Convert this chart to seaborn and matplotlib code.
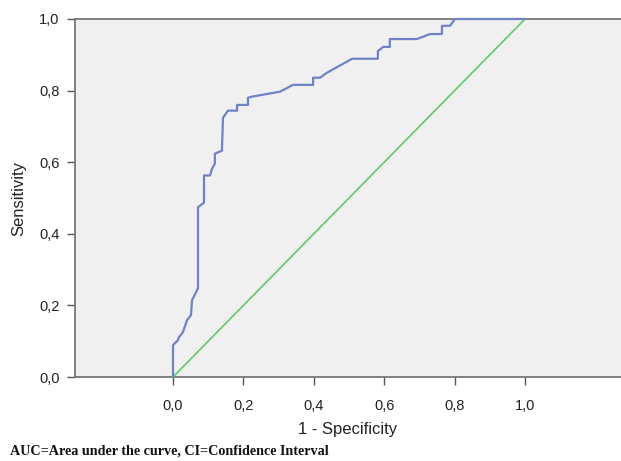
import numpy as np
import pandas as pd
import seaborn as sns
import matplotlib
matplotlib.use("Agg")
import matplotlib.pyplot as plt
from matplotlib.ticker import FuncFormatter

# ROC curve points
fpr = [0.0, 0.0, 0.014, 0.017, 0.028, 0.040, 0.051, 0.054, 0.071, 0.071,
       0.088, 0.088, 0.105, 0.111, 0.119, 0.119, 0.139, 0.142, 0.156, 0.182,
       0.182, 0.213, 0.213, 0.224, 0.304, 0.341, 0.398, 0.398, 0.418, 0.4375,
       0.509, 0.582, 0.582, 0.597, 0.616, 0.616, 0.693, 0.730, 0.764, 0.764,
       0.787, 0.801, 1.0]
tpr = [0.0, 0.089, 0.103, 0.111, 0.125, 0.159, 0.173, 0.214, 0.248, 0.474,
       0.487, 0.563, 0.563, 0.582, 0.596, 0.624, 0.632, 0.724, 0.744, 0.744,
       0.760, 0.760, 0.780, 0.783, 0.797, 0.816, 0.816, 0.836, 0.836, 0.850,
       0.889, 0.889, 0.910, 0.922, 0.922, 0.944, 0.944, 0.958, 0.958, 0.981,
       0.981, 1.0, 1.0]
ref_x = [0.0, 1.0]
ref_y = [0.0, 1.0]
ticks = [0.0, 0.2, 0.4, 0.6, 0.8, 1.0]

roc = pd.DataFrame({"fpr": fpr, "tpr": tpr})
ref = pd.DataFrame({"fpr": ref_x, "tpr": ref_y})

sns.set_style("white")
plt.rcParams["font.family"] = ["Liberation Sans", "DejaVu Sans"]

fig = plt.figure(figsize=(6.21, 4.61), dpi=100)
ax = fig.add_axes([75 / 621, 1 - 377 / 461, 546 / 621, 358 / 461])
ax.set_facecolor("#f0f0f0")

sns.lineplot(data=ref, x="fpr", y="tpr", ax=ax, color="#5fc96b", linewidth=1.2)
sns.lineplot(data=roc, x="fpr", y="tpr", ax=ax, sort=False, estimator=None,
             color="#6f82c8", linewidth=1.6)
for ln in ax.lines:
    ln.set_clip_on(False)
    ln.set_zorder(3)

ax.set_xlim((75 - 173) / 352, (621 - 173) / 352)
ax.set_ylim(0, 1.0)
ax.set_xticks(ticks)
ax.set_yticks(ticks)
fmt = FuncFormatter(lambda v, p: f"{v:.1f}".replace(".", ","))
ax.xaxis.set_major_formatter(fmt)
ax.yaxis.set_major_formatter(fmt)
ax.tick_params(axis="both", direction="out", length=6, width=1,
               color="#555555", labelsize=10.5, labelcolor="#222222", pad=5)
ax.tick_params(axis="x", bottom=True, pad=10)
ax.tick_params(axis="y", left=True, pad=5)

for side in ["left", "bottom", "top"]:
    ax.spines[side].set_color("#777777")
    ax.spines[side].set_linewidth(1.3)
    ax.spines[side].set_zorder(2)
ax.spines["right"].set_visible(False)

ax.set_xlabel("1 - Specificity", fontsize=12, color="#222222", labelpad=6)
ax.set_ylabel("Sensitivity", fontsize=12, color="#222222", labelpad=9)

fig.text(10 / 621, 1 - 451 / 461, "AUC=Area under the curve, CI=Confidence Interval",
         family=["Liberation Serif", "DejaVu Serif"], fontweight="bold",
         fontsize=10.2, color="#111111", va="center", ha="left")

fig.savefig("out.png", dpi=100)
